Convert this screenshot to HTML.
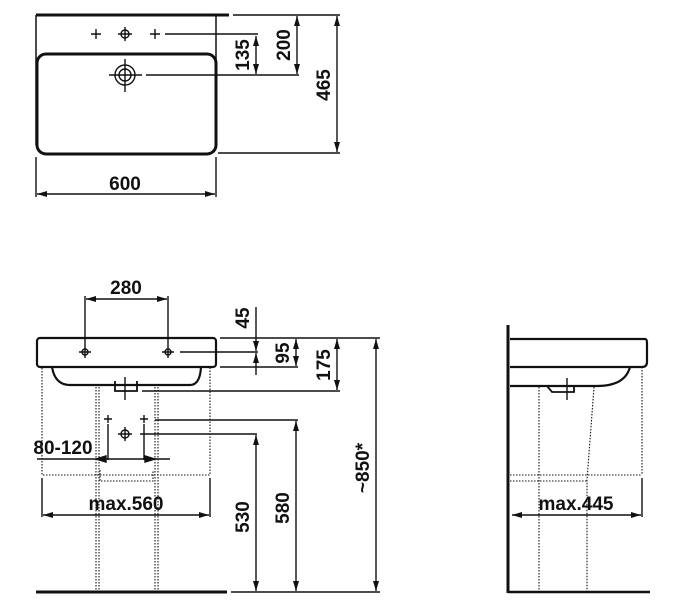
<!DOCTYPE html>
<html><head><style>
html,body{margin:0;padding:0;background:#fff}
svg{display:block}
text{font-family:"Liberation Sans",sans-serif;font-weight:bold;font-size:19px;fill:#111}
</style></head><body>
<svg width="684" height="609" viewBox="0 0 684 609" xmlns="http://www.w3.org/2000/svg">
<defs>
<marker id="a" viewBox="0 0 10 6" refX="10" refY="3" markerWidth="10" markerHeight="6" markerUnits="userSpaceOnUse" orient="auto-start-reverse"><path d="M0,0L10,3L0,6z" fill="#111"/></marker>
</defs>
<g stroke="#111" fill="none" stroke-width="1.4">
<!-- TOP VIEW -->
<line x1="36" y1="15" x2="229" y2="15" stroke-width="3"/>
<line x1="36" y1="15" x2="36" y2="145" stroke-width="1.5"/>
<line x1="216" y1="15" x2="216" y2="145" stroke-width="1.5"/>
<rect x="37" y="54" width="179" height="100" rx="9" stroke-width="3"/>
<path d="M91,34h10M96,29v10M150,34h10M155,29v10M118,34h14M125,27v14"/>
<circle cx="125" cy="34" r="4"/>
<circle cx="125" cy="75" r="10"/><circle cx="125" cy="75" r="6"/>
<path d="M109,75h33M125,59v33"/>
<line x1="165" y1="34" x2="258" y2="34"/>
<line x1="146" y1="75" x2="299" y2="75"/>
<line x1="233" y1="15" x2="340" y2="15"/>
<line x1="218" y1="153" x2="340" y2="153"/>
<line x1="256" y1="36" x2="256" y2="74" marker-start="url(#a)" marker-end="url(#a)"/>
<line x1="297" y1="16" x2="297" y2="74" marker-start="url(#a)" marker-end="url(#a)"/>
<line x1="337" y1="16" x2="337" y2="152" marker-start="url(#a)" marker-end="url(#a)"/>
<line x1="36" y1="157" x2="36" y2="197"/>
<line x1="216" y1="157" x2="216" y2="197"/>
<line x1="37" y1="194" x2="215" y2="194" marker-start="url(#a)" marker-end="url(#a)"/>

<!-- FRONT VIEW -->
<rect x="37" y="338" width="179" height="29" rx="3" stroke-width="2.2"/>
<path d="M52,367 Q55,385 70,385 H190 Q200,385 201,367" stroke-width="2.2"/>
<path d="M115,381v10h22v-10" stroke-width="1.8"/>
<path d="M125,377v23"/>
<path d="M79,352h12M85,346v12M162,352h12M168,346v12"/>
<circle cx="85" cy="352" r="3"/><circle cx="168" cy="352" r="3"/>
<line x1="85" y1="296" x2="85" y2="346"/>
<line x1="168" y1="296" x2="168" y2="346"/>
<line x1="86" y1="299" x2="167" y2="299" marker-start="url(#a)" marker-end="url(#a)"/>
<line x1="180" y1="352" x2="258" y2="352"/>
<line x1="220" y1="338" x2="380" y2="338"/>
<line x1="220" y1="367" x2="298" y2="367"/>
<line x1="142" y1="391" x2="340" y2="391"/>
<line x1="256" y1="307" x2="256" y2="351" marker-end="url(#a)"/>
<line x1="256" y1="375" x2="256" y2="353" marker-end="url(#a)"/>
<line x1="296" y1="339" x2="296" y2="366" marker-start="url(#a)" marker-end="url(#a)"/>
<line x1="337" y1="339" x2="337" y2="390" marker-start="url(#a)" marker-end="url(#a)"/>
<line x1="376" y1="339" x2="376" y2="591" marker-start="url(#a)" marker-end="url(#a)"/>
<line x1="36" y1="592" x2="227" y2="592" stroke-width="3"/>
<line x1="231" y1="592" x2="380" y2="592"/>
<line x1="155" y1="420" x2="298" y2="420"/>
<line x1="296" y1="421" x2="296" y2="591" marker-start="url(#a)" marker-end="url(#a)"/>
<line x1="140" y1="434" x2="257" y2="434"/>
<line x1="256" y1="435" x2="256" y2="591" marker-start="url(#a)" marker-end="url(#a)"/>
<path d="M104,419h8M108,415v8M140,419h8M144,415v8"/>
<circle cx="125" cy="434" r="4"/><path d="M118,434h14M125,427v14"/>
<line x1="108" y1="424" x2="108" y2="460"/>
<line x1="144" y1="424" x2="144" y2="460"/>
<line x1="37" y1="459" x2="170" y2="459"/>
<path d="M96,459l10,-3v6z M155,459l-10,-3v6z" fill="#111"/>
<line x1="42" y1="478" x2="42" y2="517"/>
<line x1="210" y1="478" x2="210" y2="517"/>
<line x1="43" y1="515" x2="209" y2="515" marker-start="url(#a)" marker-end="url(#a)"/>
<g stroke-dasharray="1.5,1.5" stroke-width="1.1">
<path d="M42,368V475H210V368"/>
<path d="M96,387V592M99,387V592M155,387V592M158,387V592"/>
<path d="M100,470V481H153V470"/>
</g>

<!-- SIDE VIEW -->
<line x1="508" y1="325" x2="508" y2="593" stroke-width="3"/>
<line x1="508" y1="592" x2="650" y2="592" stroke-width="2.5"/>
<path d="M510,339H645Q647,339 647,343V362Q647,367 642,367H510" stroke-width="2.2"/>
<path d="M510,386H597Q625,386 630,367" stroke-width="2.2"/>
<path d="M547,386l5,6h22v-5" stroke-width="1.8"/>
<path d="M567,378v22"/>
<g stroke-dasharray="1.5,1.5" stroke-width="1.1">
<path d="M539,387V592M594,387L587,480V592M642,367V475M510,475H642M510,481H587"/>
</g>
<line x1="642" y1="478" x2="642" y2="517"/>
<line x1="512" y1="515" x2="641" y2="515" marker-start="url(#a)" marker-end="url(#a)"/>
</g>
<g>
<text x="125" y="190" text-anchor="middle">600</text>
<text transform="translate(249,55) rotate(-90)" text-anchor="middle">135</text>
<text transform="translate(290,45) rotate(-90)" text-anchor="middle">200</text>
<text transform="translate(330,85) rotate(-90)" text-anchor="middle">465</text>
<text x="126" y="294" text-anchor="middle">280</text>
<text transform="translate(249,318) rotate(-90)" text-anchor="middle">45</text>
<text transform="translate(289,353) rotate(-90)" text-anchor="middle">95</text>
<text transform="translate(330,365) rotate(-90)" text-anchor="middle">175</text>
<text transform="translate(369,468) rotate(-90)" text-anchor="middle">~850*</text>
<text transform="translate(249,517) rotate(-90)" text-anchor="middle">530</text>
<text transform="translate(289,508) rotate(-90)" text-anchor="middle">580</text>
<text x="63" y="454" text-anchor="middle">80-120</text>
<text x="126" y="510" text-anchor="middle">max.560</text>
<text x="576" y="510" text-anchor="middle">max.445</text>
</g>
</svg>
</body></html>
